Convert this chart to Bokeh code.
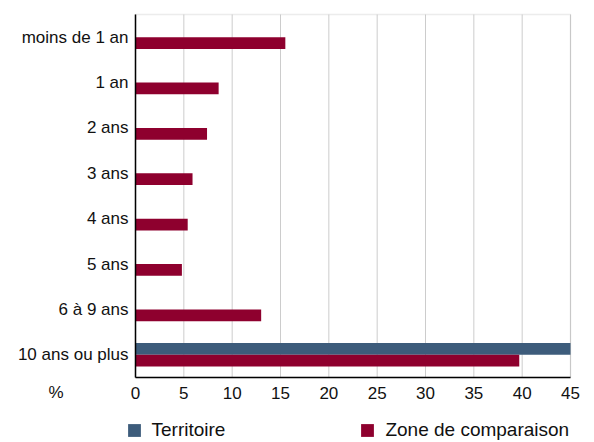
from bokeh.plotting import figure
from bokeh.models import (ColumnDataSource, Legend, LegendItem, Label, Range1d,
                          BoxAnnotation, FixedTicker)
from bokeh.transform import dodge
from bokeh.embed import file_html
from bokeh.resources import INLINE

categories = ["moins de 1 an", "1 an", "2 ans", "3 ans", "4 ans", "5 ans", "6 à 9 ans", "10 ans ou plus"]
territoire = [0, 0, 0, 0, 0, 0, 0, 100]
zone = [15.5, 8.6, 7.4, 5.9, 5.4, 4.8, 13.0, 39.7]
x_ticks = [0, 5, 10, 15, 20, 25, 30, 35, 40, 45]

BLUE = "#3d5c7b"
RED = "#8e002e"
GRID = "#cccccc"
FONT = "Liberation Sans"
TXT = "#111111"

W, H = 594, 442
# plot area in pixels: left 135, right 570, top 14, bottom 377
X_MAX = x_ticks[-1]
N = len(categories)
ppx = (570 - 135) / X_MAX
ppy = (377 - 14) / N
x_range = Range1d(-135 / ppx, X_MAX + (W - 570) / ppx)
y_range = Range1d(-(H - 377) / ppy, N + 14 / ppy)

ypos = [N - i - 0.5 for i in range(N)]
src = ColumnDataSource(data=dict(
    y=ypos, cat=categories,
    territoire=[min(v, X_MAX) for v in territoire],
    zone=[min(v, X_MAX) for v in zone]))

p = figure(width=W, height=H, output_backend="svg", toolbar_location=None,
           x_range=x_range, y_range=y_range, min_border=0)
p.outline_line_color = None
p.xgrid.visible = False
p.ygrid.visible = False

# plot-area border (top/right in grey) and vertical gridlines
p.add_layout(BoxAnnotation(left=0, right=X_MAX, bottom=0, top=N, fill_color=None,
                           line_color="#c0c0c0", line_width=1.5, level="underlay"))
p.segment(x0=x_ticks, x1=x_ticks, y0=[0] * len(x_ticks), y1=[N] * len(x_ticks),
          line_color=GRID, line_width=1, level="underlay")

r1 = p.hbar(y=dodge("y", 0.129), right="territoire", height=0.258,
            source=src, color=BLUE, line_width=0)
r2 = p.hbar(y=dodge("y", -0.129), right="zone", height=0.258,
            source=src, color=RED, line_width=0)

xa = p.xaxis[0]
ya = p.yaxis[0]
xa.fixed_location = 0
ya.fixed_location = 0
xa.bounds = (0, X_MAX)
ya.bounds = (0, N)
xa.ticker = FixedTicker(ticks=x_ticks)
ya.ticker = FixedTicker(ticks=ypos)
ya.major_label_overrides = {y: c for y, c in zip(ypos, categories)}
for ax in (xa, ya):
    ax.axis_line_color = "black"
    ax.axis_line_width = 1.5
    ax.major_tick_line_color = None
    ax.minor_tick_line_color = None
    ax.major_tick_in = 0
    ax.major_tick_out = 0
    ax.minor_tick_in = 0
    ax.minor_tick_out = 0
    ax.major_label_text_font = FONT
    ax.major_label_text_font_size = "17px"
    ax.major_label_text_color = TXT
xa.major_label_standoff = 9
ya.major_label_standoff = 7

p.add_layout(Label(x=48, y=H - 392, x_units="screen", y_units="screen", text="%",
                   text_font=FONT, text_font_size="17px", text_color=TXT,
                   text_baseline="middle"))

legend = Legend(items=[LegendItem(label="Territoire", renderers=[r1]),
                       LegendItem(label="Zone de comparaison", renderers=[r2])],
                orientation="horizontal", location=(125.5, 1.5),
                glyph_width=16, glyph_height=16, label_standoff=10, spacing=134,
                padding=0, margin=0, border_line_color=None, background_fill_alpha=0,
                label_text_font=FONT, label_text_font_size="19px", label_text_color=TXT,
                label_height=16)
p.add_layout(legend, "center")

open("out.html", "w").write(file_html(p, INLINE))
